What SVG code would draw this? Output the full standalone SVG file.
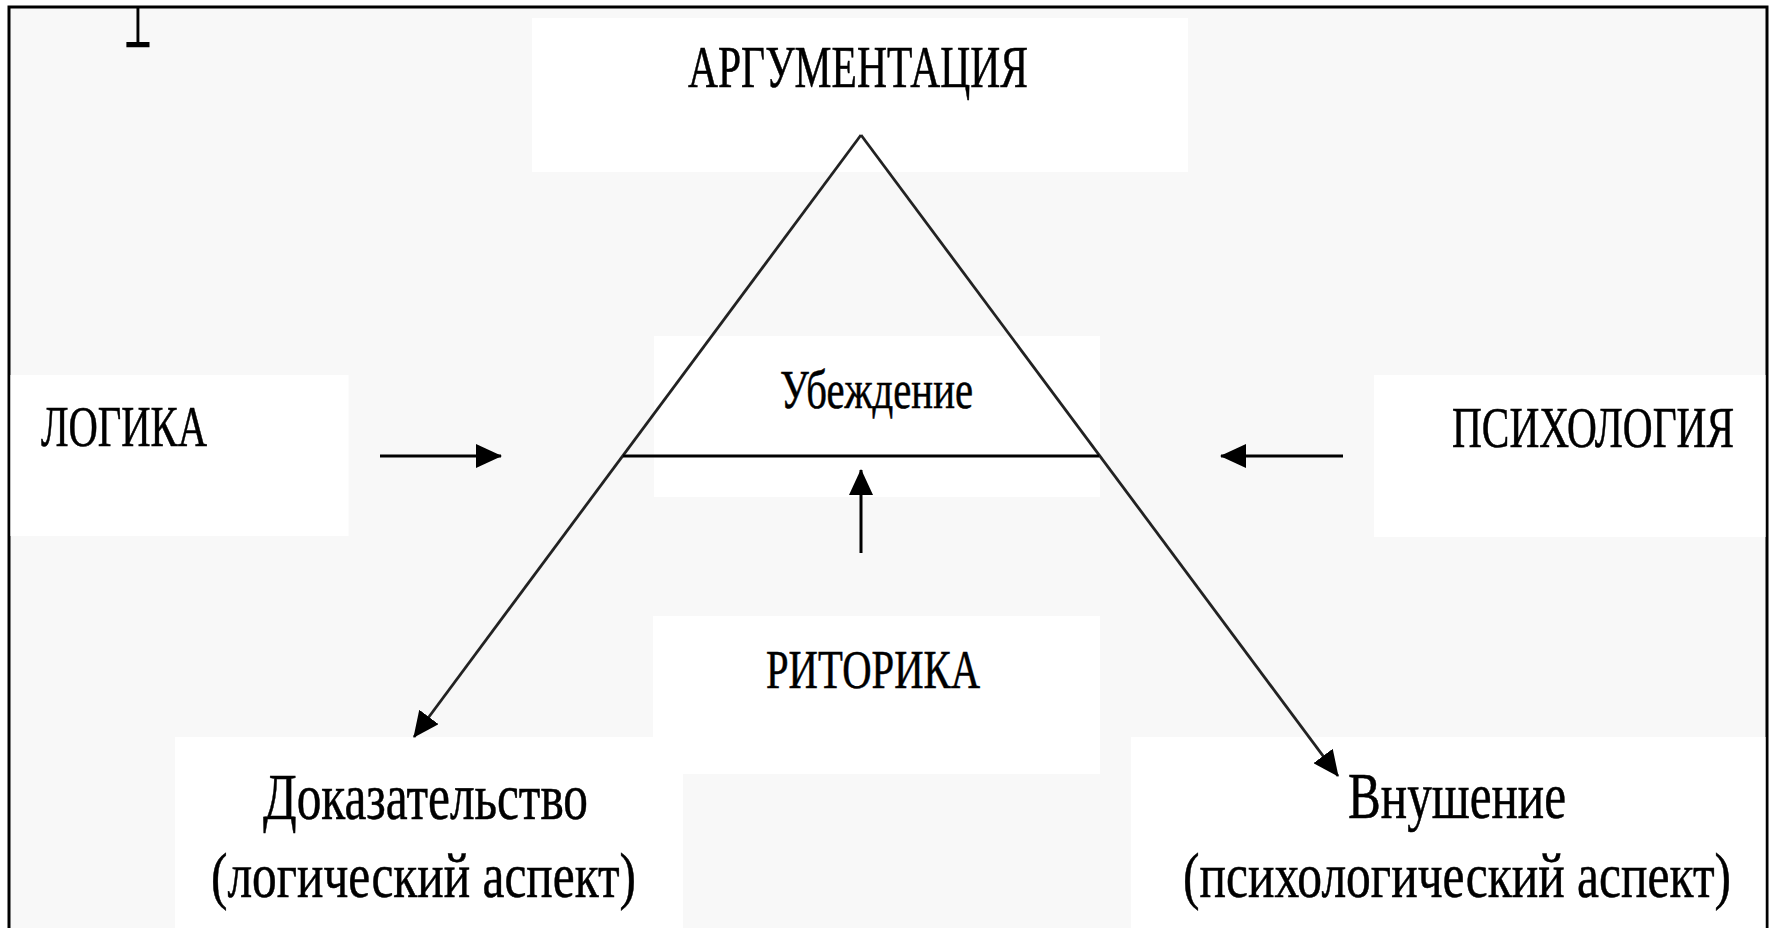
<svg xmlns="http://www.w3.org/2000/svg" width="1771" height="928" viewBox="0 0 1771 928">
  <style>
    .lbl { font-family: "Liberation Serif", "Times New Roman", serif; fill: #000; stroke: #000; stroke-width: 0.4; }
    .box { fill: #ffffff; }
    .side { stroke: #222; stroke-width: 2.8; fill: none; }
    .arr { stroke: #000; stroke-width: 3; fill: none; }
  </style>
  <defs>
    <marker id="ah" viewBox="0 0 26 24" refX="25" refY="12" markerWidth="26" markerHeight="24" markerUnits="userSpaceOnUse" orient="auto">
      <path d="M0,0 L26,12 L0,24 z" fill="#000"/>
    </marker>
  </defs>

  <rect x="0" y="0" width="1771" height="928" fill="#ffffff"/>
  <rect x="9" y="7" width="1758" height="940" fill="#f8f8f8" stroke="#000" stroke-width="3"/>

  <g id="mark">
    <text transform="translate(138,66) scale(0.6,1)" x="0" y="0" font-size="62" text-anchor="middle" style="font-family:'DejaVu Sans Mono', monospace; fill:#000">┴</text>
  </g>

  <g id="node-argumentatsiya">
    <rect class="box" x="532" y="18" width="656" height="154"/>
    <text class="lbl" transform="translate(688,87) scale(1,1.43)" font-size="41.3" textLength="340" lengthAdjust="spacingAndGlyphs">АРГУМЕНТАЦИЯ</text>
  </g>

  <g id="node-logika">
    <rect class="box" x="10.5" y="375" width="338" height="161"/>
    <text class="lbl" transform="translate(41,446) scale(1,1.40)" font-size="40.6" textLength="166" lengthAdjust="spacingAndGlyphs">ЛОГИКА</text>
  </g>

  <g id="node-ubezhdenie">
    <rect class="box" x="654" y="336" width="446" height="161"/>
    <text class="lbl" transform="translate(780,408) scale(1,1.35)" font-size="40" textLength="193" lengthAdjust="spacingAndGlyphs">Убеждение</text>
  </g>

  <g id="node-psikhologiya">
    <rect class="box" x="1374" y="375" width="391.5" height="162"/>
    <text class="lbl" transform="translate(1452,447) scale(1,1.40)" font-size="40.7" textLength="282" lengthAdjust="spacingAndGlyphs">ПСИХОЛОГИЯ</text>
  </g>

  <g id="node-ritorika">
    <rect class="box" x="653" y="616" width="447" height="158"/>
    <text class="lbl" transform="translate(766,688) scale(1,1.36)" font-size="40.5" textLength="214" lengthAdjust="spacingAndGlyphs">РИТОРИКА</text>
  </g>

  <g id="node-dokazatelstvo">
    <rect class="box" x="175" y="737" width="508" height="191"/>
    <text class="lbl" transform="translate(263,819) scale(1,1.33)" font-size="48.9" textLength="325" lengthAdjust="spacingAndGlyphs">Доказательство</text>
    <text class="lbl" transform="translate(211,897) scale(1,1.30)" font-size="49.4" textLength="425" lengthAdjust="spacingAndGlyphs">(логический аспект)</text>
  </g>

  <g id="node-vnushenie">
    <rect class="box" x="1131" y="737" width="634.5" height="191"/>
    <text class="lbl" transform="translate(1348,818) scale(1,1.32)" font-size="49.2" textLength="218" lengthAdjust="spacingAndGlyphs">Внушение</text>
    <text class="lbl" transform="translate(1183,897) scale(1,1.30)" font-size="49.3" textLength="548" lengthAdjust="spacingAndGlyphs">(психологический аспект)</text>
  </g>

  <g id="connectors">
    <line class="side" x1="861" y1="135" x2="414" y2="737" marker-end="url(#ah)"/>
    <line class="side" x1="861" y1="135" x2="1338" y2="776" marker-end="url(#ah)"/>
    <line class="arr" x1="623" y1="456" x2="1099" y2="456"/>
    <line class="arr" x1="380" y1="456" x2="501" y2="456" marker-end="url(#ah)"/>
    <line class="arr" x1="1343" y1="456" x2="1221" y2="456" marker-end="url(#ah)"/>
    <line class="arr" x1="861" y1="553" x2="861" y2="470" marker-end="url(#ah)"/>
  </g>
</svg>
